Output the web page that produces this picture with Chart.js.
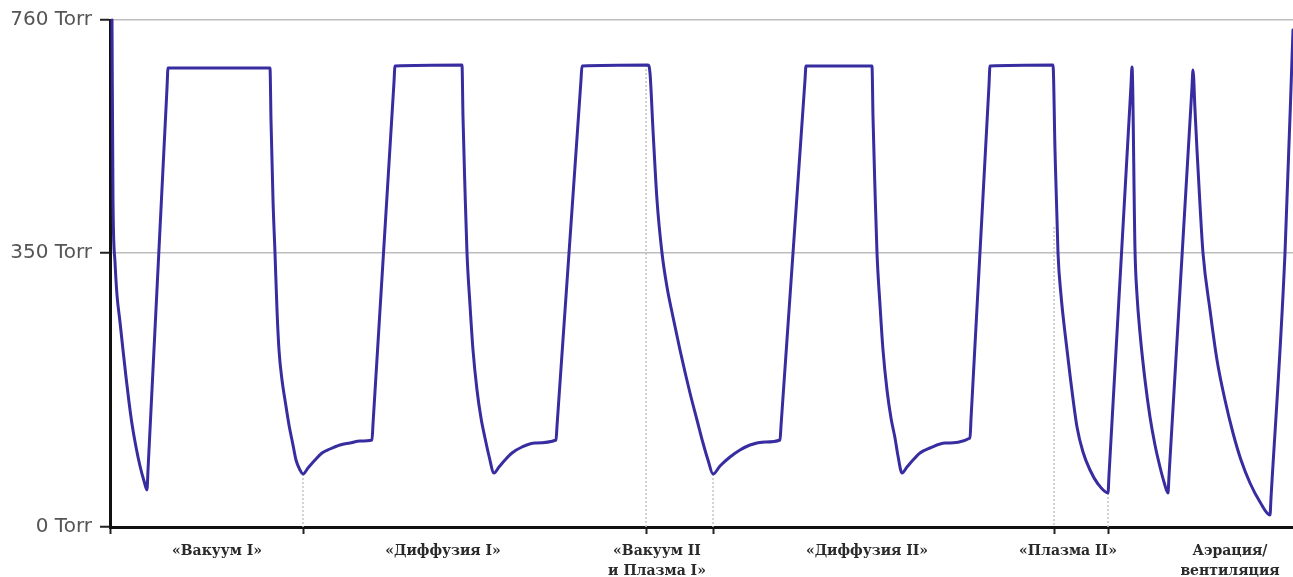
<!DOCTYPE html>
<html>
<head>
<meta charset="utf-8">
<script src="https://cdn.jsdelivr.net/npm/chart.js@4/dist/chart.umd.min.js"></script>
<style>
  html, body { margin: 0; padding: 0; background: #fff; }
  #wrap { width: 1293px; height: 577px; position: relative; }
</style>
</head>
<body>
<div id="wrap"><canvas id="cycleChart"></canvas></div>
<script>
// время (условные единицы по оси) и уровень давления в единицах оси
// ось нелинейная: 0 Torr -> 0, 350 Torr -> 274, 760 Torr -> 507
const sampleTimes = [
    2, 3, 5, 7, 10, 13, 16, 19, 22, 26, 30, 34, 37,
    38, 57, 58, 160, 161, 163, 165, 167, 169, 172, 175, 179, 183, 186, 190, 193,
    198, 205, 212, 220, 230, 240, 250, 262,
    263, 284, 285, 352, 353, 355, 357, 360, 363, 367, 371, 375, 379, 384,
    389, 395, 402, 412, 425, 446,
    447, 471, 472, 538, 540, 543, 547, 552, 557, 563, 570, 580, 587, 593, 598, 603,
    610, 620, 630, 640, 655, 670,
    671, 695, 696, 762, 763, 765, 767, 770, 773, 777, 781, 785, 788, 792,
    797, 803, 810, 820, 835, 860,
    861, 879, 880, 943, 945, 948, 951, 955, 960, 967, 973, 980, 988, 998,
    999, 1021, 1022, 1025, 1027, 1030, 1035, 1040, 1045, 1050, 1054, 1058,
    1059, 1082, 1083, 1085, 1087, 1090, 1093, 1100, 1107, 1115, 1123, 1131, 1140, 1150, 1160,
    1161, 1175, 1183
];
const chamberLevel = [
    507, 327, 265, 232, 205, 177, 150, 125, 103, 80, 61, 46, 37,
    57, 439, 459, 459, 407, 327, 274, 217, 177, 147, 127, 102, 82, 67, 57, 53,
    59, 67, 74, 78, 82, 84, 86, 87,
    103, 445, 461, 462, 410, 337, 274, 222, 177, 137, 109, 89, 71, 54,
    60, 67, 74, 80, 84, 87,
    101, 447, 461, 462, 454, 397, 327, 274, 240, 210, 177, 134, 107, 84, 67, 53,
    61, 70, 77, 82, 85, 87,
    101, 447, 461, 461, 410, 337, 274, 222, 177, 137, 109, 89, 71, 54,
    60, 67, 74, 79, 84, 89,
    108, 442, 461, 462, 377, 274, 232, 194, 152, 100, 75, 57, 43, 34,
    52, 442, 460, 277, 232, 194, 147, 110, 82, 60, 45, 34,
    51, 440, 457, 417, 377, 322, 274, 217, 167, 127, 94, 67, 44, 25, 12,
    29, 274, 497
];

// вертикальные метки границ этапов
const markerTimes = [193, 536, 603, 944, 998];
const markerTops = [53, 462, 53, 300, 34];
const axisTicks = [0, 193, 536, 603, 944, 998];

// подписи этапов
const phaseLabels = [
    '«Вакуум I»',
    '«Диффузия I»',
    ['«Вакуум II', 'и Плазма I»'],
    '«Диффузия II»',
    '«Плазма II»',
    ['Аэрация/', 'вентиляция']
];
const phaseLabelPos = [107, 333, 547, 757, 958, 1120];

const yTickValues = [0, 274, 507];
const yTickLabels = ['0 Torr', '350 Torr', '760 Torr'];

const lineColor = '#372da0';

const mainData = sampleTimes.map((t, i) => ({ x: t, y: chamberLevel[i] }));

const markerSets = markerTimes.map((t, i) => ({
    data: [{ x: t, y: markerTops[i] }, { x: t, y: 0 }],
    borderColor: '#c4c4c4',
    borderWidth: 1.5,
    borderDash: [2, 2],
    pointRadius: 0,
    order: 2
}));

const ctx = document.getElementById('cycleChart').getContext('2d');
new Chart(ctx, {
    type: 'line',
    data: {
        datasets: [{
            data: mainData,
            borderColor: lineColor,
            borderWidth: 3,
            borderJoinStyle: 'round',
            borderCapStyle: 'round',
            pointRadius: 0,
            cubicInterpolationMode: 'monotone',
            clip: false,
            order: 0
        }].concat(markerSets)
    },
    options: {
        responsive: true,
        maintainAspectRatio: false,
        animation: false,
        layout: { padding: { top: 20, right: 0, left: 0, bottom: 0 } },
        plugins: {
            legend: { display: false },
            tooltip: { enabled: false }
        },
        scales: {
            x: {
                type: 'linear',
                min: 0,
                max: 1183,
                afterBuildTicks: (scale) => {
                    const vals = axisTicks.concat(phaseLabelPos).sort((a, b) => a - b);
                    scale.ticks = vals.map(v => ({ value: v }));
                },
                afterFit: (scale) => { scale.height = 50; },
                border: { color: '#111', width: 3 },
                grid: {
                    drawOnChartArea: false,
                    tickLength: 7,
                    tickWidth: 2,
                    tickColor: (c) => (c.tick && axisTicks.includes(c.tick.value)) ? '#222' : 'rgba(0,0,0,0)'
                },
                ticks: {
                    autoSkip: false,
                    maxRotation: 0,
                    padding: 7,
                    color: '#2a2a2a',
                    font: { family: '"DejaVu Serif", "Liberation Serif", serif', size: 14, weight: 'bold', lineHeight: 1.45 },
                    callback: (value) => {
                        const idx = phaseLabelPos.indexOf(value);
                        return idx >= 0 ? phaseLabels[idx] : '';
                    }
                }
            },
            y: {
                type: 'linear',
                min: 0,
                max: 507,
                afterBuildTicks: (scale) => {
                    scale.ticks = yTickValues.map(v => ({ value: v }));
                },
                afterFit: (scale) => { scale.width = 110; },
                border: { color: '#111', width: 3 },
                grid: {
                    color: '#bdbdbd',
                    lineWidth: 1.5,
                    borderDash: [1, 2],
                    tickLength: 10,
                    tickColor: '#222',
                    tickWidth: 2
                },
                ticks: {
                    padding: 8,
                    color: '#555',
                    font: { family: '"DejaVu Sans", Arial, sans-serif', size: 20 },
                    callback: (value) => {
                        const idx = yTickValues.indexOf(value);
                        return idx >= 0 ? yTickLabels[idx] : '';
                    }
                }
            }
        }
    }
});
</script>
</body>
</html>
